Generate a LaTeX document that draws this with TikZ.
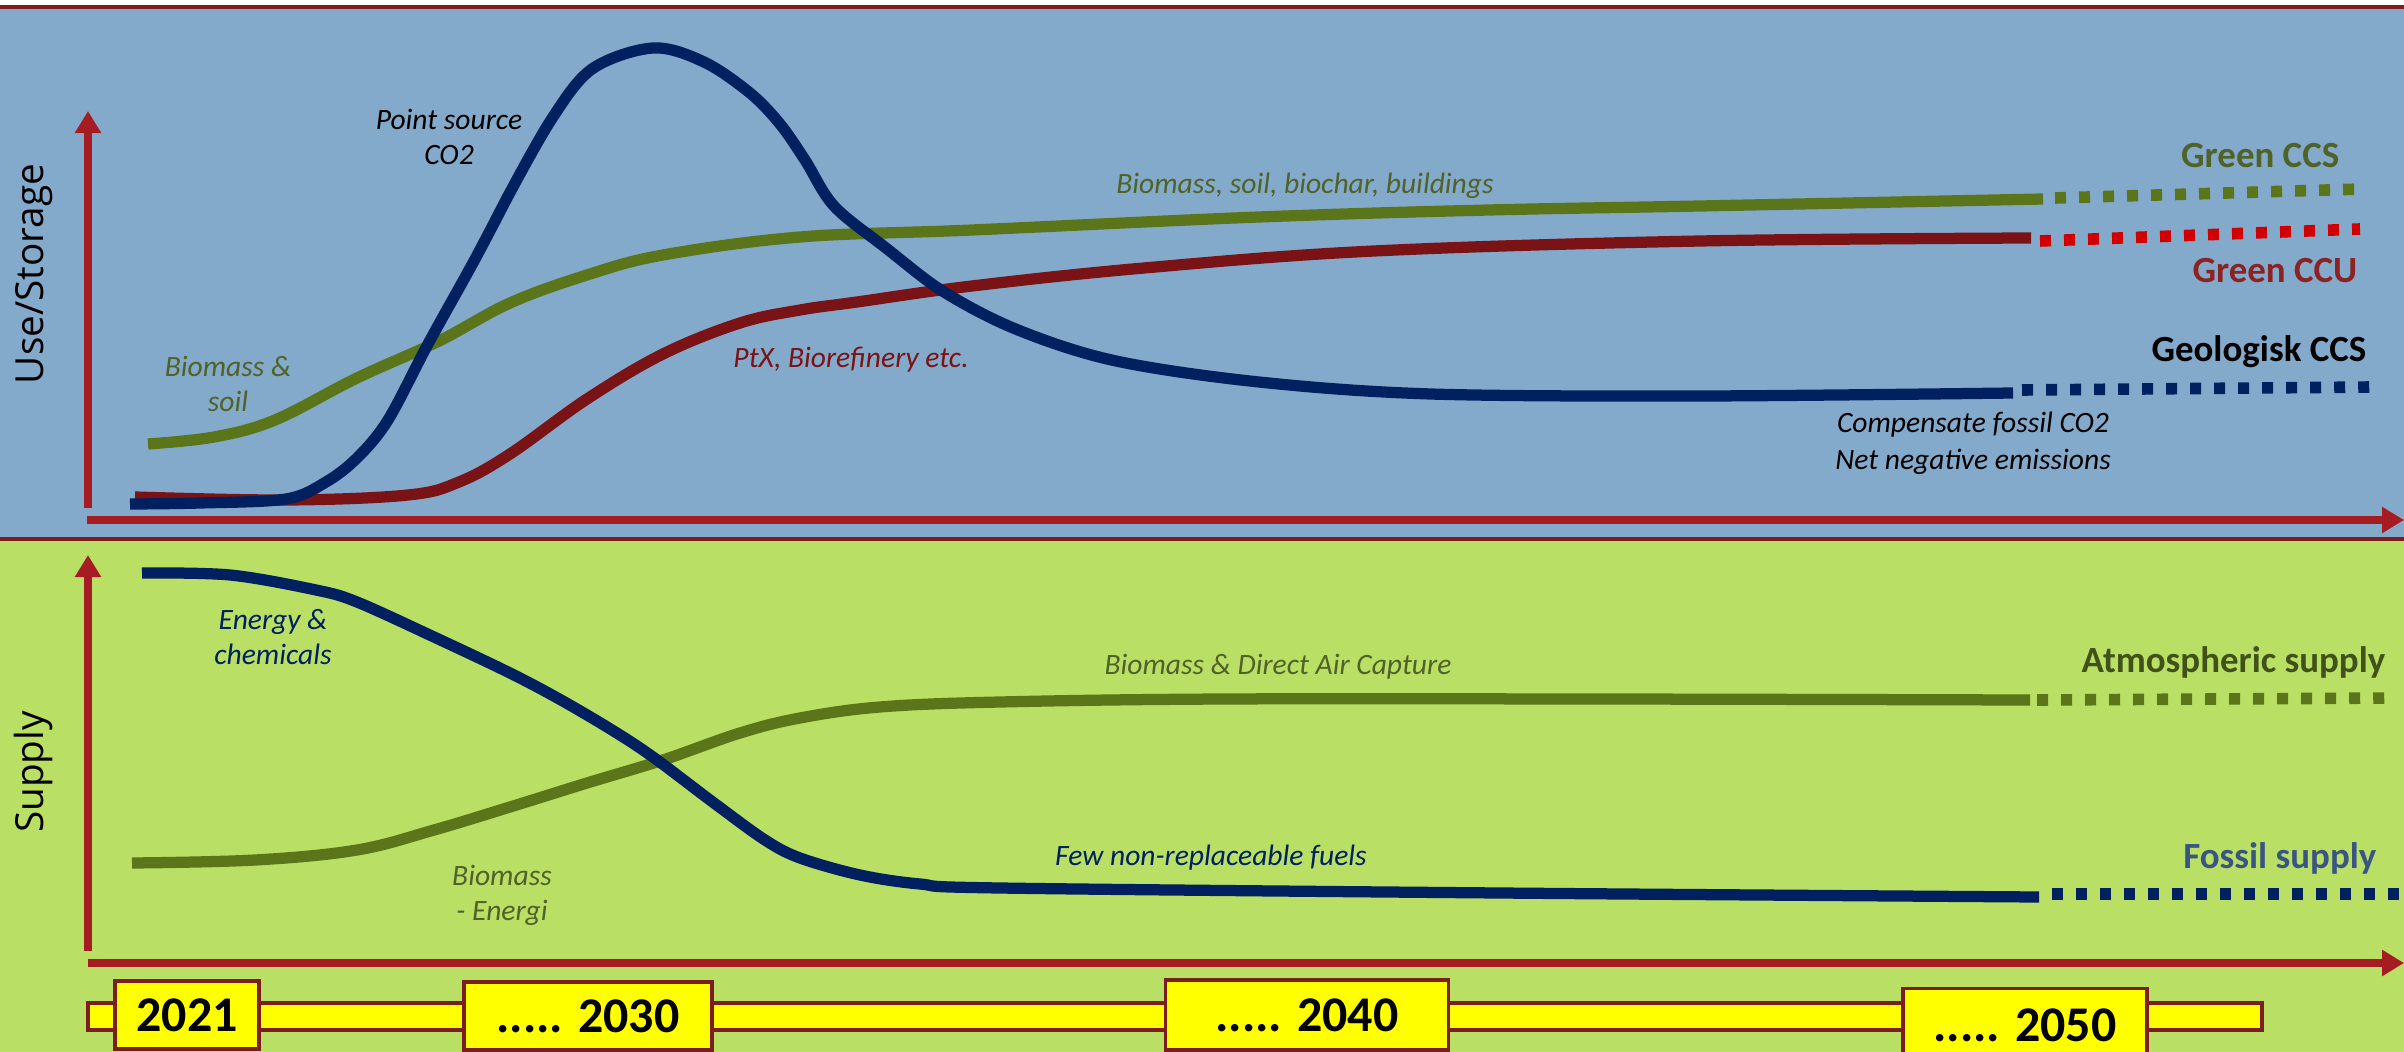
\documentclass[tikz,border=0pt]{standalone}
\usepackage{fontspec}
\setmainfont{Carlito}
\newfontfamily\axisfont{Open Sans}
\usetikzlibrary{arrows.meta}
\definecolor{bgblue}{RGB}{132,170,203}
\definecolor{bggreen}{RGB}{186,223,101}
\definecolor{navy}{RGB}{0,32,96}
\definecolor{olive}{RGB}{91,117,27}
\definecolor{olivetext}{RGB}{79,98,40}
\definecolor{atmtext}{RGB}{64,82,24}
\definecolor{wine}{RGB}{122,19,22}
\definecolor{brightred}{RGB}{208,0,0}
\definecolor{axisred}{RGB}{165,29,35}
\definecolor{borderred}{RGB}{125,30,30}
\definecolor{ccutext}{RGB}{140,35,35}
\definecolor{fossiltext}{RGB}{59,85,130}
\definecolor{yellowbox}{RGB}{255,255,0}
\begin{document}
\begin{tikzpicture}[x=0.01cm,y=-0.01cm,
  curve/.style={line width=3.2pt, line join=round},
  dashcurve/.style={line width=3.3pt, dash pattern=on 0.11cm off 0.13cm},
  axisarrow/.style={draw=axisred, line width=2pt, -{Triangle[length=0.22cm,width=0.25cm]}},
  note/.style={font=\fontsize{8.4}{10}\selectfont\itshape, align=center, inner sep=0pt},
  legend/.style={font=\fontsize{10.5}{12}\selectfont\bfseries, inner sep=0pt, anchor=base east},
  yearbox/.style={draw=borderred, fill=yellowbox, line width=1pt, inner sep=0pt,
     font=\fontsize{14.2}{16}\selectfont\bfseries},
  axislabel/.style={font=\axisfont\fontsize{11}{13}\selectfont, rotate=90, inner sep=0pt}
]
\useasboundingbox (0,0) rectangle (2404,1052);
% panels
\fill[white] (0,0) rectangle (2404,1052);
\fill[bgblue] (0,7) rectangle (2404,539);
\fill[bggreen] (0,539) rectangle (2404,1052);
\draw[borderred, line width=1pt] (0,7) -- (2404,7);
\draw[borderred, line width=1.3pt] (0,539) -- (2404,539);

% axes
\coordinate (uy0) at (88,508);
\coordinate (uy1) at (88,111);
\coordinate (ux0) at (87,520);
\coordinate (ux1) at (2404,520);
\coordinate (ly0) at (88,951);
\coordinate (ly1) at (88,555);
\coordinate (lx0) at (88,963);
\coordinate (lx1) at (2404,963);
\draw[axisarrow] (uy0) -- (uy1);
\draw[axisarrow] (ux0) -- (ux1);
\draw[axisarrow] (ly0) -- (ly1);
\draw[axisarrow] (lx0) -- (lx1);

% timeline
\draw[draw=borderred, fill=yellowbox, line width=1pt] (88,1003) rectangle (2262,1030);
\node[yearbox, minimum width=1.44cm, minimum height=0.68cm] (y2021) at (187,1015) {2021};
\node[yearbox, minimum width=2.48cm, minimum height=0.68cm] (y2030) at (588,1016) {..... 2030};
\node[yearbox, minimum width=2.83cm, minimum height=0.70cm] (y2040) at (1307,1015) {..... 2040};
\node[yearbox, minimum width=2.44cm, minimum height=0.73cm] (y2050) at (2025,1025) {..... 2050};

% upper curves
\draw[curve, olive] plot[smooth, tension=0.6] coordinates {(148,444) (214,437) (275,420) (357,378) (439,341) (510,303) (587,275) (663,255) (800,237) (972,230) (1259,217) (1489,210) (1700,206) (2043,199)};
\draw[dashcurve, olive] (2055,198) -- (2362,189);

\draw[curve, wine] plot[smooth, tension=0.6] coordinates {(135,497) (286,500) (408,495) (459,482) (510,454) (587,399) (663,354) (740,323) (800,310) (857,302) (972,286) (1144,268) (1374,251) (1700,241) (2031,238)};
\draw[dashcurve, brightred] (2040,241) -- (2360,229);

\draw[curve, navy] plot[smooth, tension=0.55] coordinates {(130,504) (200,503) (286,499) (326,482) (357,458) (388,420) (428,344) (474,261) (507,198)}
  plot[smooth, tension=0.55] coordinates {(507,198) (551,120) (592,69) (653,48) (704,62) (750,93) (780,124) (805,160) (834,206) (886,248) (944,292) (1018,330) (1116,361) (1259,382) (1431,394) (1700,396) (2013,393)};
\draw[dashcurve, navy] (2022,390) -- (2372,387);

% lower curves
\draw[curve, olive] plot[smooth, tension=0.6] coordinates {(132,863) (255,860) (357,850) (434,830) (510,807) (587,783) (663,760) (740,733) (800,718) (880,707) (1000,702) (1224,699) (1600,699) (2030,700)};
\draw[dashcurve, olive] (2037,700) -- (2392,698);

\draw[curve, navy] plot[smooth, tension=0.55] coordinates {(142,573) (230,575) (316,590) (357,602) (434,637) (510,673) (561,700) (612,730) (653,757) (714,803) (765,840) (800,858) (860,875) (920,884) (1000,888) (1500,893) (2039,897)};
\draw[dashcurve, navy] (2052,894) -- (2404,894);

% axis labels
\node[axislabel] (lUse) at (34,274) {Use/Storage};
\node[axislabel] (lSupply) at (33,772) {Supply};

% upper notes
\node[note, text=black] (nPoint) at (449,137) {Point source\\CO2};
\node[note, text=olivetext] (nBiosoil) at (228,384) {Biomass \&\\soil};
\node[note, text=olivetext] (nBiochar) at (1305,186) {Biomass, soil, biochar, buildings};
\node[note, text=wine] (nPtX) at (851,360) {PtX, Biorefinery etc.};
\node[note, text=black, font=\fontsize{8.4}{10.6}\selectfont\itshape] (nComp) at (1973,443) {Compensate fossil CO2\\Net negative emissions};
\node[legend, text=olivetext] (gccs) at (2340,168) {Green CCS};
\node[legend, text=ccutext] (gccu) at (2358,283) {Green CCU};
\node[legend, text=black] (geoccs) at (2367,362) {Geologisk CCS};

% lower notes
\node[note, text=navy] (nEnergy) at (273,637) {Energy \&\\chemicals};
\node[note, text=olivetext] (nDAC) at (1278,667) {Biomass \& Direct Air Capture};
\node[note, text=olivetext] (nBioE) at (502,895) {Biomass\\- Energi};
\node[note, text=navy] (nFew) at (1211,858) {Few non-replaceable fuels};
\node[legend, text=atmtext] (atm) at (2386,672) {Atmospheric supply};
\node[legend, text=fossiltext] (fos) at (2377,868) {Fossil supply};
\end{tikzpicture}
\end{document}
